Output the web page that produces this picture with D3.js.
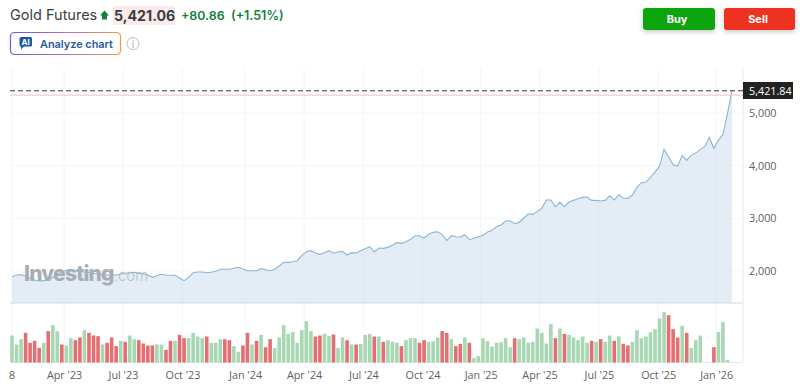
<!DOCTYPE html>
<html>
    <head>
        <meta charset="utf-8">
        <style>
          html, body { margin: 0; padding: 0; background: #fff; overflow: hidden; }
          text { font-family: Inter, "Open Sans", sans-serif; }
          .axis text { font-family: "Open Sans", sans-serif; font-size: 10.8px; fill: #5b5f66; }
        </style>
    </head>
    <body>
        <script src="https://d3js.org/d3.v7.min.js"></script>
        <svg id="chart" width="800" height="388"></svg>
        <script>
          // weekly closes
          const closes = [
            1892, 1924, 1930, 1905, 1861, 1829, 1810, 1817, 1836, 1880,
            1937, 1987, 2013, 2032, 2006, 1994, 1981, 1975, 1956, 1943,
            1937, 1924, 1924, 1924, 1937, 1956, 1968, 1975, 1956, 1943,
            1924, 1880, 1911, 1937, 1924, 1918, 1918, 1867, 1817, 1880,
            1968, 1981, 1981, 1968, 1975, 1994, 2032, 2032, 2032, 2051,
            2070, 2038, 2006, 2006, 2006, 2044, 2025, 2006, 2032, 2095,
            2164, 2164, 2177, 2196, 2297, 2367, 2386, 2342, 2316, 2348,
            2386, 2342, 2361, 2373, 2304, 2348, 2342, 2386, 2424, 2462,
            2361, 2436, 2430, 2449, 2487, 2538, 2525, 2557, 2601, 2670,
            2670, 2626, 2696, 2734, 2746, 2696, 2576, 2670, 2651, 2645,
            2689, 2595, 2620, 2651, 2677, 2740, 2772, 2841, 2873, 2949,
            2955, 2898, 2923, 3006, 3082, 3075, 3132, 3189, 3347, 3347,
            3221, 3303, 3221, 3309, 3341, 3373, 3398, 3404, 3341, 3341,
            3328, 3341, 3429, 3347, 3448, 3385, 3379, 3442, 3588, 3676,
            3689, 3777, 3878, 3992, 4309, 4169, 4018, 3992, 4195, 4100,
            4201, 4239, 4309, 4365, 4536, 4328, 4486, 4593, 4992, 5421.84
          ];
          const volumes = [
            81, 54, 70, 89, 59, 65, 44, 59, 94, 112,
            94, 54, 51, 73, 67, 75, 97, 89, 81, 79,
            54, 59, 75, 49, 65, 62, 81, 70, 67, 57,
            51, 51, 54, 54, 38, 65, 65, 83, 73, 73,
            89, 78, 73, 78, 59, 59, 70, 70, 67, 49,
            32, 51, 89, 54, 65, 83, 46, 70, 43, 75,
            112, 86, 91, 59, 97, 124, 94, 78, 81, 86,
            79, 84, 43, 75, 67, 54, 54, 56, 83, 86,
            78, 78, 62, 67, 62, 59, 49, 67, 73, 73,
            59, 67, 62, 64, 75, 94, 89, 70, 49, 56,
            75, 59, 13, 19, 73, 64, 48, 59, 61, 73,
            46, 73, 70, 75, 59, 62, 102, 89, 57, 115,
            73, 102, 86, 83, 75, 67, 78, 59, 65, 62,
            70, 62, 81, 65, 78, 56, 51, 62, 97, 73,
            78, 91, 100, 132, 151, 142, 100, 75, 110, 89,
            43, 67, 81, 0, 0, 46, 91, 121, 8, 0
          ];
          const downWeeks = [
            3, 4, 5, 6, 8, 11, 14, 15, 17, 18, 19, 21, 22, 23, 25, 28, 29, 30, 31, 34,
            35, 37, 38, 43, 47, 48, 51, 52, 54, 56, 57, 67, 68, 71, 74, 76, 80, 82, 86,
            90, 91, 95, 96, 98, 99, 101, 111, 120, 122, 128, 130, 133, 135, 136, 145,
            146, 147, 149, 155
          ];
          const tickWeeks = [11.5, 24.5, 37.65, 51.46, 64.5, 77.6, 90.66, 103.5, 116.5, 129.6, 142.7, 155.5];
          const tickLabels = ["Apr '23", "Jul '23", "Oct '23", "Jan '24", "Apr '24", "Jul '24", "Oct '24", "Jan '25", "Apr '25", "Jul '25", "Oct '25", "Jan '26"];
          const priceTicks = [2000, 3000, 4000, 5000];
          const lastPrice = 5421.84;
          const prevClose = 5340.2;

          const svg = d3.select('#chart');
          const defs = svg.append('defs');

          const plotLeft = 10, plotRight = 743, plotTop = 68, plotBottom = 303;
          const volBase = 362.5;

          const x = d3.scaleLinear().domain([0, closes.length - 1]).range([12, 732]);
          const y = d3.scaleLinear().domain([2000, 5000]).range([271, 113]);
          const yVol = d3.scaleLinear().domain([0, 150]).range([volBase, volBase - 50]);

          // header
          svg.append('text').attr('x', 10).attr('y', 20).attr('font-size', 14.5).attr('fill', '#3a3d42').text('Gold Futures');
          svg.append('path').attr('d', 'M104.5 10.5 L109 15.5 L107 15.5 L107 19.5 L102 19.5 L102 15.5 L100 15.5 Z').attr('fill', '#12803c');
          svg.append('rect').attr('x', 113).attr('y', 6).attr('width', 62).attr('height', 19).attr('fill', '#fbeaea');
          svg.append('text').attr('x', 114).attr('y', 20.5).attr('font-size', 14.2).attr('font-weight', 700).attr('fill', '#3a3d42').text('5,421.06');
          svg.append('text').attr('x', 181).attr('y', 20).attr('font-size', 12.4).attr('font-weight', 600).attr('fill', '#12803c').text('+80.86');
          svg.append('text').attr('x', 231).attr('y', 20).attr('font-size', 12.5).attr('font-weight', 600).attr('fill', '#12803c').text('(+1.51%)');

          // analyze button
          const grad = defs.append('linearGradient').attr('id', 'btnBorder');
          grad.append('stop').attr('offset', '0%').attr('stop-color', '#6a5ae0');
          grad.append('stop').attr('offset', '55%').attr('stop-color', '#c06fb0');
          grad.append('stop').attr('offset', '100%').attr('stop-color', '#f39a3e');
          svg.append('rect').attr('x', 10.5).attr('y', 32.5).attr('width', 110).attr('height', 22).attr('rx', 4)
            .attr('fill', '#fff').attr('stroke', 'url(#btnBorder)').attr('stroke-width', 1.2);
          svg.append('path').attr('d', 'M21 37 H30.5 Q32 37 32 38.5 V45 Q32 46.5 30.5 46.5 H24 L21 49.5 V46.5 Q19.5 46.5 19.5 45 V38.5 Q19.5 37 21 37 Z').attr('fill', '#1d5aa6');
          svg.append('text').attr('x', 25.7).attr('y', 45).attr('text-anchor', 'middle').attr('font-size', 8).attr('font-weight', 700).attr('fill', '#fff').text('AI');
          svg.append('text').attr('x', 40).attr('y', 48).attr('font-size', 10.9).attr('font-weight', 600).attr('fill', '#2a5a9e').text('Analyze chart');
          svg.append('circle').attr('cx', 133).attr('cy', 43.5).attr('r', 6).attr('fill', 'none').attr('stroke', '#bcbcbc');
          svg.append('text').attr('x', 133).attr('y', 47.5).attr('text-anchor', 'middle').attr('font-size', 10).attr('fill', '#aaa').text('i');

          // buy / sell
          const shadow = defs.append('filter').attr('id', 'btnShadow').attr('x', '-20%').attr('y', '-30%').attr('width', '140%').attr('height', '180%');
          shadow.append('feDropShadow').attr('dx', 0).attr('dy', 2).attr('stdDeviation', 2.5).attr('flood-opacity', 0.22);
          svg.append('rect').attr('x', 643).attr('y', 8).attr('width', 72).attr('height', 22).attr('rx', 3).attr('fill', '#0ea50e').attr('filter', 'url(#btnShadow)');
          svg.append('rect').attr('x', 724).attr('y', 8).attr('width', 71).attr('height', 22).attr('rx', 3).attr('fill', '#ee3124').attr('filter', 'url(#btnShadow)');
          svg.append('text').attr('x', 677).attr('y', 23).attr('text-anchor', 'middle').attr('font-size', 11).attr('font-weight', 700).attr('fill', '#fff').text('Buy');
          svg.append('text').attr('x', 758).attr('y', 23).attr('text-anchor', 'middle').attr('font-size', 11).attr('font-weight', 700).attr('fill', '#fff').text('Sell');

          // grid
          svg.append('g').selectAll('line').data(tickWeeks.concat([0])).join('line')
            .attr('x1', d => x(d)).attr('x2', d => x(d))
            .attr('y1', plotTop).attr('y2', volBase)
            .attr('stroke', '#f3f4f5');
          svg.append('g').selectAll('line').data(priceTicks).join('line')
            .attr('x1', plotLeft).attr('x2', plotRight)
            .attr('y1', d => y(d)).attr('y2', d => y(d))
            .attr('stroke', '#f5f6f7');

          // price area
          const area = d3.area().x((d, i) => x(i)).y0(plotBottom).y1(d => y(d));
          const line = d3.line().x((d, i) => x(i)).y(d => y(d));
          svg.append('path').datum(closes).attr('d', area).attr('fill', '#c9dbeb').attr('fill-opacity', 0.5);

          // watermark
          const mark = svg.append('text').attr('x', 24).attr('y', 281).attr('fill', '#a9adb2');
          mark.append('tspan').attr('font-size', 21).attr('font-weight', 800).attr('letter-spacing', -0.8).text('Investing');
          mark.append('tspan').attr('font-size', 15).attr('font-weight', 300).attr('fill', '#bcc0c4').text('.com');

          svg.append('path').datum(closes).attr('d', line).attr('fill', 'none').attr('stroke', '#8db4d3').attr('stroke-width', 1.1);

          // frame lines
          svg.append('line').attr('x1', plotLeft).attr('x2', plotRight).attr('y1', plotBottom).attr('y2', plotBottom).attr('stroke', '#d3d9de').attr('stroke-width', 1.2);
          svg.append('line').attr('x1', plotLeft).attr('x2', plotRight).attr('y1', volBase).attr('y2', volBase).attr('stroke', '#e4e6e8');
          svg.append('line').attr('x1', plotRight).attr('x2', plotRight).attr('y1', plotTop).attr('y2', volBase).attr('stroke', '#e6e8ea');

          // previous close and last price
          svg.append('line').attr('x1', plotLeft).attr('x2', plotRight).attr('y1', y(prevClose)).attr('y2', y(prevClose)).attr('stroke', '#f6b9b9');
          svg.append('line').attr('x1', plotLeft).attr('x2', plotRight).attr('y1', y(lastPrice)).attr('y2', y(lastPrice))
            .attr('stroke', '#333').attr('stroke-dasharray', '5 3');

          // volume
          svg.append('g').selectAll('rect').data(volumes).join('rect')
            .attr('x', (d, i) => x(i) - 1.8)
            .attr('width', 3.6)
            .attr('y', d => yVol(d))
            .attr('height', d => volBase - yVol(d))
            .attr('fill', (d, i) => downWeeks.includes(i) ? '#e46f72' : '#a8d7b3');

          // axes
          const yAxis = d3.axisRight(y).tickValues(priceTicks).tickSize(0).tickPadding(6).tickFormat(d3.format(','));
          svg.append('g').attr('class', 'axis').attr('transform', `translate(${plotRight},0)`).call(yAxis)
            .call(g => g.select('.domain').remove());

          const xAxis = d3.axisBottom(x).tickValues(tickWeeks).tickSize(0).tickPadding(0)
            .tickFormat((d, i) => tickLabels[i]);
          svg.append('g').attr('class', 'axis').attr('transform', 'translate(0,371)').call(xAxis)
            .call(g => g.select('.domain').remove());
          svg.append('text').attr('x', 12).attr('y', 379).attr('text-anchor', 'middle')
            .attr('font-size', 10.8).attr('fill', '#5b5f66').style('font-family', '"Open Sans", sans-serif').text('8');

          // last price tag
          svg.append('rect').attr('x', 743).attr('y', 82).attr('width', 50).attr('height', 17).attr('fill', '#222');
          svg.append('text').attr('x', 749).attr('y', 94.5).attr('font-size', 10.8).attr('fill', '#fff')
            .style('font-family', '"Open Sans", sans-serif').text(d3.format(',.2f')(lastPrice));
        </script>
    </body>
</html>
